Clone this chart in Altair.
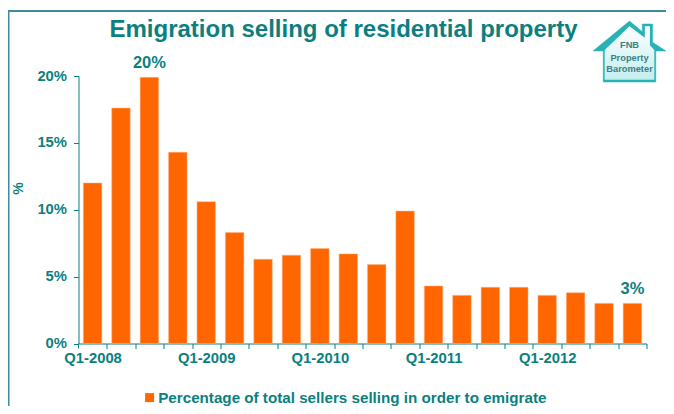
import altair as alt
import pandas as pd

categories = [f"Q{q}-{y}" for y in range(2008, 2013) for q in range(1, 5)]
values = [12.0, 17.6, 19.9, 14.3, 10.6, 8.3, 6.3, 6.6, 7.1, 6.7, 5.9, 9.9,
          4.3, 3.6, 4.2, 4.2, 3.6, 3.8, 3.0, 3.0]
y_ticks = [0, 5, 10, 15, 20]
point_labels = {"Q3-2008": "20%", "Q4-2012": "3%"}
series_name = "Percentage of total sellers selling in order to emigrate"
title_text = "Emigration selling of residential property"
logo_lines = ["FNB", "Property", "Barometer"]

TEAL = "#0b7f80"
FRAME = "#3c8ba0"
ORANGE = "#ff6600"
FONT = "Liberation Sans"
PL, PT = 70.5, 68
W, H = 568, 267.5
TOTAL_W, TOTAL_H = 658, 398

df = pd.DataFrame({"period": categories, "pct": values, "series": series_name})
df["label"] = df["period"].map(point_labels).fillna("")

x = alt.X("period:N", sort=categories, title=None,
          scale=alt.Scale(paddingInner=0.35, paddingOuter=0.17, round=False),
          axis=alt.Axis(tickOffset=14.2, labelOffset=-14.2, labelAngle=0, labelOverlap=False,
                        labelFont=FONT, labelFontSize=14.8, labelFontWeight="bold", labelColor=TEAL,
                        labelPadding=2, tickColor=TEAL, domainColor=TEAL, tickSize=5,
                        labelExpr="indexof(datum.value,'Q1')==0 ? datum.value : ''"))
y = alt.Y("pct:Q", title="%", scale=alt.Scale(domain=[0, 20]),
          axis=alt.Axis(values=y_ticks, grid=False, labelExpr="datum.value+'%'", labelFont=FONT,
                        labelFontSize=14.8, labelFontWeight="bold", labelColor=TEAL, labelPadding=7,
                        tickColor=TEAL, domainColor=TEAL, tickSize=5,
                        titleFont=FONT, titleFontSize=14, titleFontWeight="bold", titleColor=TEAL,
                        titlePadding=11, titleY=112))

bars = alt.Chart(df).mark_bar(stroke="#ffb080", strokeWidth=0.5).encode(
    x=x, y=y,
    color=alt.Color("series:N", scale=alt.Scale(range=[ORANGE]),
                    legend=alt.Legend(title=None, orient="none", legendX=63.5, legendY=314,
                                      symbolType="square", symbolSize=81, symbolStrokeWidth=0,
                                      labelFont=FONT, labelFontSize=15.2, labelFontWeight="bold",
                                      labelColor=TEAL, labelLimit=500, labelOffset=1)))

labels = alt.Chart(df[df["label"] != ""]).mark_text(
    baseline="bottom", dy=-6, font=FONT, fontSize=16.5, fontWeight="bold", color=TEAL
).encode(x=alt.X("period:N", sort=categories), y="pct:Q", text="label:N")

anno = pd.DataFrame({"a": [0]})
base = alt.Chart(anno)

frame_top = base.mark_rule(color=FRAME, strokeWidth=2).encode(
    x=alt.value(-PL), x2=alt.value(TOTAL_W - PL), y=alt.value(10 - 8 - PT + 1))
frame_left = base.mark_rule(color=FRAME, strokeWidth=2).encode(
    x=alt.value(-PL + 0.5), y=alt.value(10 - 8 - PT + 1), y2=alt.value(TOTAL_H - PT))
first_tick = base.mark_rule(color=TEAL, strokeWidth=1).encode(
    x=alt.value(0), y=alt.value(H), y2=alt.value(H + 5))

title = base.mark_text(text=title_text, font=FONT, fontSize=24, fontWeight="bold", color=TEAL,
                       align="center", baseline="middle").encode(
    x=alt.value(343.5 - 8 - PL), y=alt.value(30 - 8 - PT))

HOUSE_OUT = ("M-1,0 L0,-0.82 L0.35,-0.53 L0.35,-0.74 L0.63,-0.74 L0.63,-0.24 L1,0 "
             "L0.72,0 L0.72,0.85 L-0.72,0.85 L-0.72,0 Z")
HOUSE_IN = ("M-0.68,-0.03 L0,-0.68 L0.42,-0.36 L0.42,-0.68 L0.56,-0.68 L0.56,-0.16 L0.68,-0.03 "
            "L0.68,0.79 L-0.68,0.79 Z")
hx, hy = 629.5 - 8 - PL, 51 - 8 - PT
house_out = base.mark_point(shape=HOUSE_OUT, filled=True, fill="#25b3b5", stroke="#25b3b5",
                            strokeWidth=0.5, size=5329, opacity=1).encode(
    x=alt.value(hx), y=alt.value(hy))
house_in = base.mark_point(shape=HOUSE_IN, filled=True, size=5329, strokeWidth=0, opacity=1,
                           fill=alt.Gradient(gradient="linear", x1=0, y1=0, x2=0, y2=1,
                                             stops=[alt.GradientStop(offset=0, color="#ffffff"),
                                                    alt.GradientStop(offset=1, color="#c3eeee")])
                           ).encode(x=alt.value(hx), y=alt.value(hy))
logo = [base.mark_text(text=t, font=FONT, fontSize=9.3, fontWeight="bold", color="#3b7f86",
                       align="center", baseline="middle").encode(
            x=alt.value(hx), y=alt.value(hy + dy))
        for t, dy in zip(logo_lines, [-6, 7, 18])]

chart = alt.layer(bars, labels, frame_top, frame_left, first_tick, title, house_out, house_in, *logo).properties(
    width=W, height=H,
    padding={"left": PL, "top": PT, "right": TOTAL_W - PL - W, "bottom": TOTAL_H - PT - H},
    autosize=alt.AutoSizeParams(type="none"),
    background="#ffffff",
).configure_view(stroke=None)

chart.save("out.html", embed_options={"renderer": "svg", "actions": False})
